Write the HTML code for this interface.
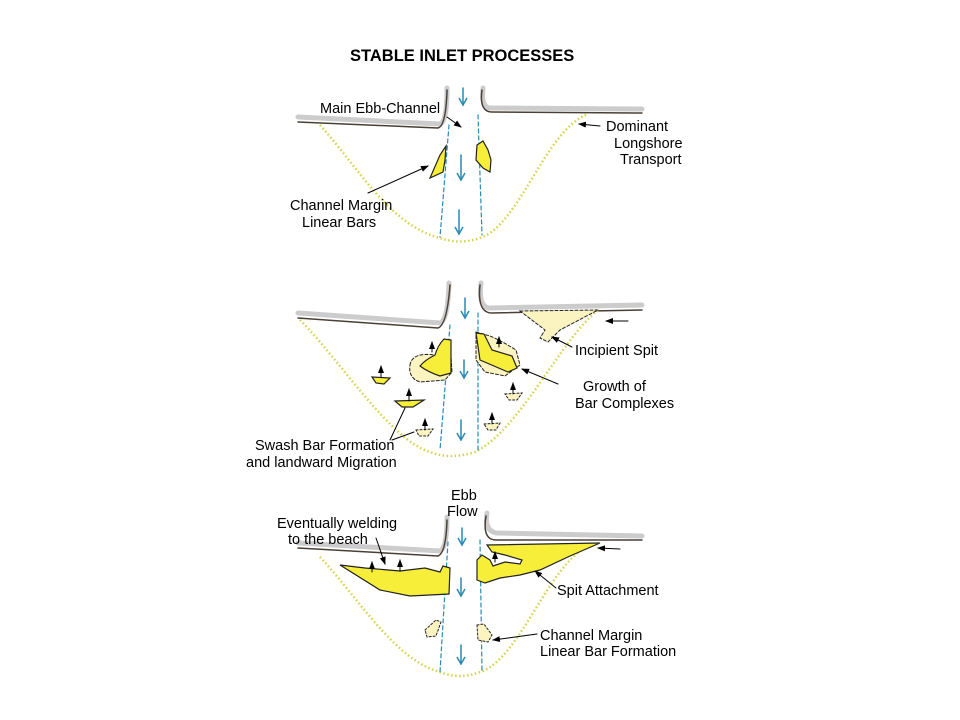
<!DOCTYPE html>
<html><head><style>
body{margin:0;background:#fff;}
svg{display:block;font-family:"Liberation Sans",Arial,sans-serif;}
</style></head><body>
<svg width="960" height="720" viewBox="0 0 960 720">
<defs>
<marker id="ah" markerWidth="8" markerHeight="8" refX="7" refY="4" orient="auto"><path d="M0,1 L8,4 L0,7 Z" fill="#000"/></marker>
<marker id="bh" markerWidth="10" markerHeight="10" refX="8" refY="5" orient="auto" markerUnits="userSpaceOnUse"><path d="M1,1 L8,5 L1,9" fill="none" stroke="#2a8ab5" stroke-width="1.5"/></marker>
</defs>
<text x="350" y="61" font-size="16.5" font-weight="bold">STABLE INLET PROCESSES</text>

<g stroke-linecap="round">
<!-- PANEL 1 -->
<path d="M298,117 L440,124 Q447,122 447,88" fill="none" stroke="#ccc" stroke-width="5"/>
<path d="M298,122 L438,128 Q446,126 447,90" fill="none" stroke="#4a3f35" stroke-width="1.5"/>
<path d="M483,88 Q481,108 490,108 L642,109" fill="none" stroke="#ccc" stroke-width="5"/>
<path d="M482,90 Q479,112 492,112 L642,113" fill="none" stroke="#4a3f35" stroke-width="1.5"/>
<path d="M320,125 C360,170 390,225 440,238 Q460,245 480,238 C520,225 545,130 588,114" fill="none" stroke="#d4d44a" stroke-width="2.5" stroke-linecap="butt" stroke-dasharray="1.5,2.5"/>
<path d="M449,125 L440,237 M478,115 L482,235" stroke="#2a8ab5" stroke-width="1.2" stroke-dasharray="4,3" fill="none"/>
<g stroke="#2a8ab5" stroke-width="1.5" fill="none">
<path d="M463,88 L463,105" marker-end="url(#bh)"/>
<path d="M461,155 L461,180" marker-end="url(#bh)"/>
<path d="M459,210 L459,234" marker-end="url(#bh)"/>
</g>
<path d="M430,178 L440,155 L446,146 L445,160 L443,172 Z" fill="#f7ee3a" stroke="#222" stroke-width="1.2"/>
<path d="M477,145 L483,141 L488,150 L491,160 L490,172 L483,168 L476,160 Z" fill="#f7ee3a" stroke="#222" stroke-width="1.2"/>
<path d="M447,117 L461,127" stroke="#000" marker-end="url(#ah)"/>
<path d="M600,126 L579,124" stroke="#000" marker-end="url(#ah)"/>
<path d="M368,193 L428,166" stroke="#000" marker-end="url(#ah)"/>

<!-- PANEL 2 -->
<path d="M298,313 L440,323 Q448,320 449,283" fill="none" stroke="#ccc" stroke-width="5"/>
<path d="M298,318 L438,328 Q447,325 450,285" fill="none" stroke="#4a3f35" stroke-width="1.5"/>
<path d="M481,283 Q478,308 490,308 L642,305" fill="none" stroke="#ccc" stroke-width="5"/>
<path d="M480,285 Q477,313 492,313 L642,310" fill="none" stroke="#4a3f35" stroke-width="1.5"/>
<path d="M300,320 C340,360 390,440 430,452 Q450,460 475,452 C520,430 560,340 598,310" fill="none" stroke="#d4d44a" stroke-width="2.5" stroke-linecap="butt" stroke-dasharray="1.5,2.5"/>
<path d="M450,325 L440,450 M478,313 L478,452" stroke="#2a8ab5" stroke-width="1.2" stroke-dasharray="4,3" fill="none"/>
<g stroke="#2a8ab5" stroke-width="1.5" fill="none">
<path d="M465,298 L465,318" marker-end="url(#bh)"/>
<path d="M464,360 L464,378" marker-end="url(#bh)"/>
<path d="M461,420 L461,440" marker-end="url(#bh)"/>
</g>
<path d="M520,311 L598,310 L560,330 L548,342 L540,338 L545,330 Z" fill="#fbf3c0" stroke="#222" stroke-width="1" stroke-dasharray="3,2"/>
<path d="M410,365 Q412,352 435,355 L438,350 L450,340 L452,372 L445,380 L420,382 Q408,378 410,365 Z" fill="#fbf3c0" stroke="#222" stroke-width="1" stroke-dasharray="3,2"/>
<path d="M420,366 Q425,360 435,355 Q438,345 444,339 L451,340 L451,373 L440,376 Q428,372 420,366 Z" fill="#f7ee3a" stroke="#222" stroke-width="1.2"/>
<path d="M476,332 L490,336 Q500,340 516,350 L520,365 L505,376 L485,372 L476,360 Z" fill="#fbf3c0" stroke="#222" stroke-width="1" stroke-dasharray="3,2"/>
<path d="M476,333 L484,334 L492,350 L512,356 L517,368 L508,372 L480,360 Z" fill="#f7ee3a" stroke="#222" stroke-width="1.2"/>
<path d="M372,377 L390,378 L384,384 L376,383 Z" fill="#f7ee3a" stroke="#222" stroke-width="1.2"/>
<path d="M395,401 L424,400 L413,407 L402,407 Z" fill="#f7ee3a" stroke="#222" stroke-width="1.2"/>
<path d="M416,430 L433,429 L428,436 L419,436 Z" fill="#fbf3c0" stroke="#222" stroke-width="1" stroke-dasharray="2,2"/>
<path d="M505,394 L522,393 L517,400 L509,400 Z" fill="#fbf3c0" stroke="#222" stroke-width="1" stroke-dasharray="2,2"/>
<path d="M484,424 L500,423 L496,430 L488,430 Z" fill="#fbf3c0" stroke="#222" stroke-width="1" stroke-dasharray="2,2"/>
<g stroke="#000" stroke-width="1" marker-end="url(#ah)">
<path d="M381,377 L381,366"/><path d="M409,401 L409,389"/><path d="M425,430 L425,419"/><path d="M432,352 L432,342"/><path d="M499,347 L499,337"/><path d="M513,394 L513,383"/><path d="M492,424 L492,413"/>
</g>
<path d="M628,321 L606,321" stroke="#000" marker-end="url(#ah)"/>
<path d="M572,347 L552,337" stroke="#000" marker-end="url(#ah)"/>
<path d="M558,384 L522,369" stroke="#000" marker-end="url(#ah)"/>
<path d="M390,440 L405,408 M392,440 L414,432" stroke="#000" fill="none"/>

<!-- PANEL 3 -->
<path d="M298,543 L440,551 Q447,548 447,517" fill="none" stroke="#ccc" stroke-width="5"/>
<path d="M298,548 L438,556 Q446,553 447,520" fill="none" stroke="#4a3f35" stroke-width="1.5"/>
<path d="M487,513 Q484,530 496,533 L642,536" fill="none" stroke="#ccc" stroke-width="5"/>
<path d="M486,516 Q482,540 496,540 L642,540" fill="none" stroke="#4a3f35" stroke-width="1.5"/>
<path d="M320,557 C360,600 395,660 440,672 Q460,680 480,672 C520,660 550,560 590,546" fill="none" stroke="#d4d44a" stroke-width="2.5" stroke-linecap="butt" stroke-dasharray="1.5,2.5"/>
<path d="M448,542 L440,672 M480,540 L482,672" stroke="#2a8ab5" stroke-width="1.2" stroke-dasharray="4,3" fill="none"/>
<g stroke="#2a8ab5" stroke-width="1.5" fill="none">
<path d="M462,528 L462,545" marker-end="url(#bh)"/>
<path d="M461,578 L461,596" marker-end="url(#bh)"/>
<path d="M461,645 L461,664" marker-end="url(#bh)"/>
</g>
<path d="M340,565 L365,568 L400,571 L425,568 L440,572 L443,566 L450,568 L449,594 L410,596 L380,590 Z" fill="#f7ee3a" stroke="#222" stroke-width="1.2"/>
<path d="M487,545 L600,543 L570,556 L540,570 L520,575 L500,578 L485,583 L477,580 L477,560 L482,555 L490,560 L493,566 L505,562 L520,564 L522,560 L505,555 L492,552 Z" fill="#f7ee3a" stroke="#222" stroke-width="1.2"/>
<path d="M425,630 L436,620 L441,622 L436,636 L427,637 Z" fill="#fbf3c0" stroke="#222" stroke-width="1" stroke-dasharray="2,2"/>
<path d="M477,625 L484,624 L492,635 L488,642 L478,640 Z" fill="#fbf3c0" stroke="#222" stroke-width="1" stroke-dasharray="2,2"/>
<g stroke="#000" stroke-width="1" marker-end="url(#ah)">
<path d="M372,572 L372,562"/><path d="M400,571 L400,560"/><path d="M495,562 L495,552"/>
</g>
<path d="M376,538 L385,564" stroke="#000" marker-end="url(#ah)"/>
<path d="M620,549 L598,548" stroke="#000" marker-end="url(#ah)"/>
<path d="M556,588 L535,571" stroke="#000" marker-end="url(#ah)"/>
<path d="M537,634 L493,640" stroke="#000" marker-end="url(#ah)"/>
</g>

<g font-size="14.5" fill="#000">
<text x="320" y="113">Main Ebb-Channel</text>
<text x="606" y="131">Dominant</text>
<text x="614" y="148">Longshore</text>
<text x="620" y="164">Transport</text>
<text x="290" y="210">Channel Margin</text>
<text x="302" y="227">Linear Bars</text>
<text x="575" y="355">Incipient Spit</text>
<text x="583" y="391">Growth of</text>
<text x="575" y="408">Bar Complexes</text>
<text x="255" y="450">Swash Bar Formation</text>
<text x="246" y="467">and landward Migration</text>
<text x="451" y="500">Ebb</text>
<text x="447" y="516">Flow</text>
<text x="277" y="528">Eventually welding</text>
<text x="288" y="544">to the beach</text>
<text x="557" y="595">Spit Attachment</text>
<text x="540" y="640">Channel Margin</text>
<text x="540" y="656">Linear Bar Formation</text>
</g>
</svg>
</body></html>
